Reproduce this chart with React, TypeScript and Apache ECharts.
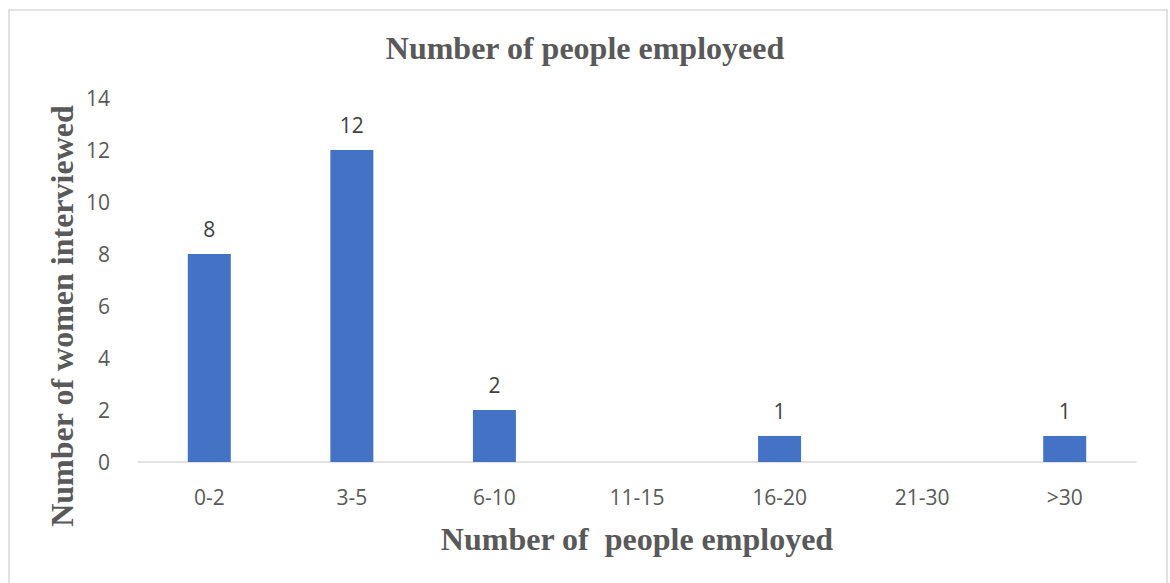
import React, { useEffect, useRef } from "react";
import * as echarts from "echarts";

const categories = ["0-2", "3-5", "6-10", "11-15", "16-20", "21-30", ">30"];
const values = [8, 12, 2, 0, 1, 0, 1];
const labelShown = [true, true, true, false, true, false, true];
const yTicks = [0, 14, 2];

export default function App() {
  const ref = useRef<HTMLDivElement>(null);
  useEffect(() => {
    if (!ref.current) return;
    const chart = echarts.init(ref.current, undefined, { renderer: "svg" });
    const serif = "'Liberation Serif', 'Times New Roman', serif";
    const sans = "'Open Sans', 'Liberation Sans', sans-serif";
    chart.setOption({
      animation: false,
      backgroundColor: "#ffffff",
      title: {
        text: "Number of people employeed",
        left: "center",
        top: 27,
        textStyle: { fontFamily: serif, fontWeight: "bold", fontSize: 32, color: "#595959" },
      },
      grid: { left: 138, right: 34, top: 98, bottom: 121 },
      xAxis: {
        type: "category",
        data: categories,
        name: "Number of  people employed",
        nameLocation: "middle",
        nameGap: 61,
        nameTextStyle: { fontFamily: serif, fontWeight: "bold", fontSize: 32, color: "#595959" },
        axisLine: { lineStyle: { color: "#d9d9d9", width: 1.5 } },
        axisTick: { show: false },
        axisLabel: { fontFamily: sans, fontSize: 21, color: "#595959", margin: 24 },
      },
      yAxis: {
        type: "value",
        min: yTicks[0],
        max: yTicks[1],
        interval: yTicks[2],
        splitLine: { show: false },
        axisLine: { show: false },
        axisTick: { show: false },
        axisLabel: { fontFamily: sans, fontSize: 21, color: "#595959", margin: 28 },
      },
      graphic: [
        {
          type: "rect",
          shape: { x: 9, y: 10, width: 1158, height: 600 },
          style: { fill: "none", stroke: "#d9d9d9", lineWidth: 1.5 },
          silent: true,
        },
        {
          type: "text",
          x: 62,
          y: 316,
          rotation: Math.PI / 2,
          style: {
            text: "Number of women interviewed",
            fontFamily: serif,
            fontWeight: "bold",
            fontSize: 32,
            fill: "#595959",
            align: "center",
            verticalAlign: "middle",
          },
        },
      ],
      series: [
        {
          type: "bar",
          data: values.map((v, i) => ({
            value: v,
            label: { show: labelShown[i] },
          })),
          barWidth: 43,
          itemStyle: { color: "#4472c4" },
          label: {
            position: "top",
            distance: 15,
            fontFamily: sans,
            fontSize: 21,
            color: "#404040",
          },
        },
      ],
    });
    return () => chart.dispose();
  }, []);
  return (
    <div
      ref={ref}
      style={{ position: "fixed", left: 0, top: 0, width: 1170, height: 583 }}
    />
  );
}
